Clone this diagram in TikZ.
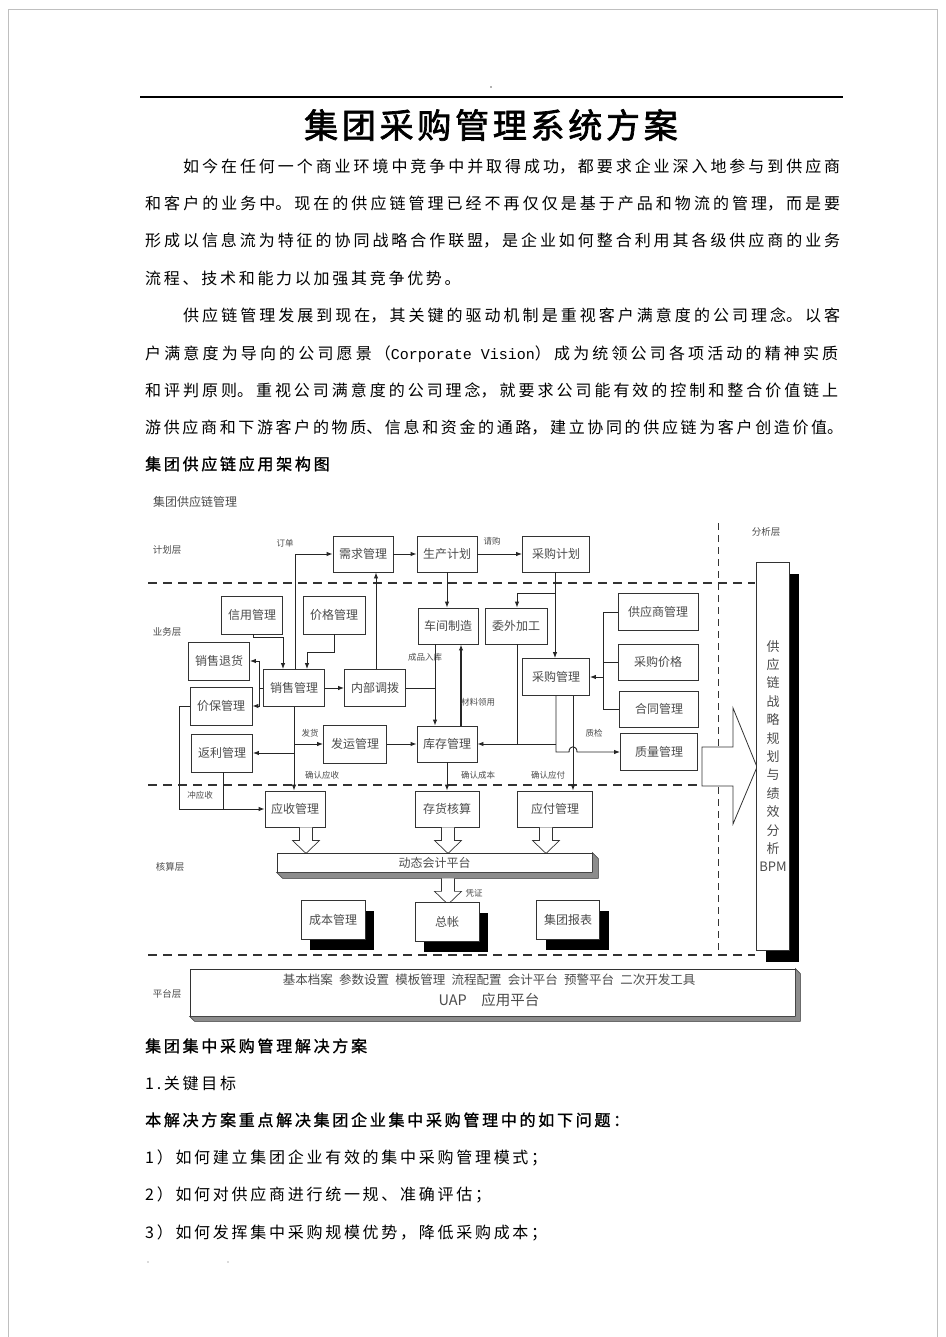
\documentclass[tikz,border=0pt]{standalone}
\usepackage{fontspec}
\usetikzlibrary{arrows.meta,shadows}
\newfontfamily\cjk{Noto Sans CJK SC}
\newfontfamily\monof{Liberation Mono}
\newcommand\bodyfont{\cjk\fontsize{16}{19}\selectfont}
\newcommand\boxfont{\cjk\fontsize{12}{14}\selectfont}
\newcommand\lblfont{\cjk\fontsize{8.5}{10}\selectfont}
\newcommand\layerfont{\cjk\fontsize{9.5}{11}\selectfont}
% one justified line of body text
\newcommand\fullline[2]{\parbox[b]{#1pt}{\bodyfont\XeTeXlinebreaklocale "zh"\XeTeXlinebreakskip=0pt plus 1fil\parfillskip=0pt\relax #2}}
\newcommand\plainline[1]{{\bodyfont\addfontfeatures{LetterSpace=17}#1}}
\newcommand\boldline[1]{{\bodyfont\addfontfeatures{LetterSpace=17,FakeBold=1.2}#1}}
\tikzset{
  box/.style={draw=black!80, line width=0.9pt, fill=white, font=\boxfont, text=black!70,
    inner sep=0pt, minimum width=61pt, minimum height=37pt},
  shbox/.style={box, drop shadow={shadow xshift=9pt, shadow yshift=-10pt, fill=black, opacity=1}},
  lbl/.style={font=\lblfont, text=black!70, inner sep=0pt},
  layer/.style={font=\layerfont, text=black!70, inner sep=0pt},
  arr/.style={-{Latex[length=6pt,width=4.5pt]}, line width=0.9pt, draw=black!85},
  ln/.style={line width=0.9pt, draw=black!85},
  sepline/.style={dash pattern=on 9pt off 6pt, line width=1.6pt, draw=black!80},
  vsepline/.style={dash pattern=on 7pt off 5pt, line width=1pt, draw=black!80},
  txt/.style={inner sep=0pt, anchor=base west},
  holdown/.pic={\draw[fill=white, line width=0.7pt, draw=black!80] (-6.5,0) -- (-6.5,13) -- (-13.5,13) -- (0,26) -- (13.5,13) -- (6.5,13) -- (6.5,0);}
}
\begin{document}
\begin{tikzpicture}[x=1pt,y=-1pt]
\useasboundingbox (0,0) rectangle (945,1337);
\fill[white] (0,0) rectangle (945,1337);
\draw[black!25, line width=0.8pt] (8,9) rectangle (937,1360);

% page head
\fill[black!60] (491,87) circle (0.8);
\draw[line width=1.1pt] (140,97) -- (843,97);
\node[inner sep=0pt, anchor=base] (title) at (491,138)
  {\cjk\fontsize{34}{40}\selectfont\addfontfeatures{LetterSpace=11,FakeBold=2}集团采购管理系统方案};

% body text
\node[txt] (p1a) at (183,173) {\fullline{657}{如今在任何一个商业环境中竞争中并取得成功，都要求企业深入地参与到供应商}};
\node[txt] (p1b) at (145,210) {\fullline{695}{和客户的业务中。现在的供应链管理已经不再仅仅是基于产品和物流的管理，而是要}};
\node[txt] (p1c) at (145,247) {\fullline{695}{形成以信息流为特征的协同战略合作联盟，是企业如何整合利用其各级供应商的业务}};
\node[txt] (p1d) at (145,284) {\plainline{流程、技术和能力以加强其竞争优势。}};
\node[txt] (p2a) at (183,321) {\fullline{657}{供应链管理发展到现在，其关键的驱动机制是重视客户满意度的公司理念。以客}};
\node[txt] (p2b) at (145,359) {\fullline{693}{户满意度为导向的公司愿景（{\monof\fontsize{15}{19}\selectfont Corporate Vision}）成为统领公司各项活动的精神实质}};
\node[txt] (p2c) at (145,396) {\fullline{693}{和评判原则。重视公司满意度的公司理念，就要求公司能有效的控制和整合价值链上}};
\node[txt] (p2d) at (145,433) {\fullline{698}{游供应商和下游客户的物质、信息和资金的通路，建立协同的供应链为客户创造价值。}};
\node[txt] (h1) at (145,470) {\boldline{集团供应链应用架构图}};

% layers
\node[layer, font=\boxfont] (groupname) at (195,502) {集团供应链管理};
\node[layer] (lplan) at (167,550) {计划层};
\node[layer] (lbiz) at (167,632) {业务层};
\node[layer] (lacc) at (170,867) {核算层};
\node[layer] (lplat) at (167,994) {平台层};
\node[layer] (lana) at (766,532) {分析层};
\draw[sepline] (148,583) -- (755,583);
\draw[sepline] (148,785) -- (702,785);
\draw[sepline] (148,955) -- (755,955);
\draw[vsepline] (718,523) -- (718,955);

% plan layer
\node[box, minimum width=60pt, minimum height=36pt] (xuqiu) at (363,554) {需求管理};
\node[box, minimum width=60pt, minimum height=36pt] (shengchan) at (447,554) {生产计划};
\node[box, minimum width=67pt, minimum height=36pt] (caigoujh) at (556,554) {采购计划};

% business layer
\node[box, minimum height=38pt] (xinyong) at (252,615) {信用管理};
\node[box, minimum width=62pt, minimum height=38pt] (jiage) at (334,615) {价格管理};
\node[box, minimum height=38pt] (tuihuo) at (219,661) {销售退货};
\node[box, minimum width=62pt, minimum height=38pt] (jiabao) at (221,706) {价保管理};
\node[box] (xiaoshou) at (294,688) {销售管理};
\node[box] (diaobo) at (375,688) {内部调拨};
\node[box, minimum width=63pt, minimum height=38pt] (fayun) at (355,744) {发运管理};
\node[box, minimum height=38pt] (fanli) at (222,753) {返利管理};
\node[box, minimum width=60pt, minimum height=36pt] (kucun) at (447,744) {库存管理};
\node[box, minimum width=60pt, minimum height=36pt] (chejian) at (448,626) {车间制造};
\node[box, minimum width=62pt, minimum height=36pt] (weiwai) at (516,626) {委外加工};
\node[box, minimum width=67pt] (caigougl) at (556,677) {采购管理};
\node[box, minimum width=80pt] (gongying) at (658,612) {供应商管理};
\node[box, minimum width=80pt, minimum height=36pt] (cgjiage) at (658,662) {采购价格};
\node[box, minimum width=79pt, minimum height=36pt] (hetong) at (659,709) {合同管理};
\node[box, minimum width=77pt] (zhiliang) at (659,752) {质量管理};

% accounting layer
\node[box, minimum width=60pt, minimum height=36pt] (yingshou) at (295,809) {应收管理};
\node[box, minimum width=64pt, minimum height=36pt] (cunhuo) at (447,809) {存货核算};
\node[box, minimum width=75pt, minimum height=36pt] (yingfu) at (555,809) {应付管理};

% plan connectors
\draw[arr] ([xshift=1pt]xiaoshou.north) |- (xuqiu.west);
\node[lbl] (ldingdan) at (285,543) {订单};
\draw[arr] ([xshift=1pt]diaobo.north) -- ([xshift=1pt]diaobo.north |- xuqiu.south);
\draw[arr] (xuqiu) -- (shengchan);
\draw[arr] (shengchan) -- (caigoujh);
\node[lbl] (lqinggou) at (492,541) {请购};
\draw[arr] (shengchan.south) -- (shengchan.south |- chejian.north);
\draw[arr] ([xshift=-1pt]caigoujh.south) -- ([xshift=-1pt]caigoujh.south |- caigougl.north);
\coordinate (cg) at (555,593);
\draw[arr] (cg) -| ([xshift=1pt]weiwai.north);

% sales side
\draw[arr] ([xshift=1pt]xinyong.south) -- ++(0,3) -| ([xshift=-11pt]xiaoshou.north);
\draw[arr] (jiage.south) -- ++(0,18) -| ([xshift=13pt]xiaoshou.north);
\coordinate (fb) at (259,688);
\draw[ln] (xiaoshou.west) -- (fb);
\draw[arr] (fb) |- (tuihuo.east);
\draw[arr] (fb) |- (jiabao.east);
\draw[arr] (xiaoshou) -- (diaobo);
\draw[arr] (xiaoshou.south) -- (xiaoshou.south |- yingshou.north);
\draw[arr] (xiaoshou.south |- fayun.west) -- (fayun.west);
\node[lbl] (lfahuo) at (310,733) {发货};
\draw[arr] (xiaoshou.south |- fanli.east) -- (fanli.east);
\node[lbl] (lqrys) at (322,775) {确认应收};
\draw[arr] (fayun) -- (kucun);
\draw[arr] (jiabao.west) -- ++(-10,0) |- (yingshou.west);
\draw[ln] ([xshift=1pt]fanli.south) -- ([xshift=1pt]fanli.south |- yingshou.west);
\node[lbl] (lchongys) at (200,795) {冲应收};

% stock and purchase
\coordinate (rk) at (435,688);
\draw[ln] (diaobo.east) -- (rk);
\draw[arr] ([xshift=-13pt]chejian.south) -- ([xshift=-12pt]kucun.north);
\node[lbl] (lruku) at (425,657) {成品入库};
\draw[arr, line width=1.8pt] ([xshift=14pt]kucun.north) -- ([xshift=13pt]chejian.south);
\node[lbl] (llingyong) at (478,702) {材料领用};
\draw[arr] ([xshift=1pt]weiwai.south) |- (kucun.east);
\draw[ln] (caigougl.south |- kucun.east) -- ([xshift=1pt]weiwai.south |- kucun.east);
\coordinate (zj) at (556,752);
\draw[arr] (caigougl.south) -- (zj) -- (569,752) .. controls (569,745) and (577,745) .. (577,752) -- (zhiliang.west);
\node[lbl] (lzhijian) at (594,733) {质检};
\draw[arr] ([xshift=17pt]caigougl.south) -- ([xshift=18pt]yingfu.north);
\node[lbl] (lqryf) at (548,775) {确认应付};
\coordinate (gx) at (603,677);
\draw[ln] (gongying.west) -- (gongying.west -| gx) -- (hetong.west -| gx) -- (hetong.west);
\draw[ln] (cgjiage.west) -- (cgjiage.west -| gx);
\draw[arr] (gx) -- (caigougl.east);
\draw[arr] (kucun.south) -- (cunhuo.north);
\node[lbl] (lqrcb) at (478,775) {确认成本};

% accounting platform
\pic at ([xshift=11pt]yingshou.south) {holdown};
\pic at ([xshift=1pt]cunhuo.south) {holdown};
\pic at ([xshift=-9pt]yingfu.south) {holdown};
\node[box, minimum width=315pt, minimum height=19pt, line width=0.7pt] (kuaiji) at (434.5,862.5) {动态会计平台};
\filldraw[fill=black!45, draw=black!80, line width=0.6pt] (kuaiji.south west) -- ([shift={(6,6)}]kuaiji.south west)
  -- ([shift={(6,6)}]kuaiji.south east) -- ([shift={(6,6)}]kuaiji.north east) -- (kuaiji.north east) -- (kuaiji.south east) -- cycle;
\pic at ([xshift=13.5pt,yshift=-6pt]kuaiji.south) {holdown};
\node[lbl] (lpingzheng) at (474,893) {凭证};
\node[shbox, minimum width=64pt, minimum height=39pt] (chengben) at (333,920) {成本管理};
\node[shbox, minimum width=64pt, minimum height=39pt] (zongzhang) at (447,922) {总帐};
\node[shbox, minimum width=63pt, minimum height=39pt] (baobiao) at (568,920) {集团报表};

% analysis
\draw[fill=white, line width=0.8pt, draw=black!80] (702,747) -- (733,747) -- (733,708) -- (757,767) -- (733,824) -- (733,786) -- (702,786) -- cycle;
\node[box, minimum width=33pt, minimum height=388pt, align=center, font={\cjk\fontsize{13}{18.4}\selectfont},
  drop shadow={shadow xshift=9pt, shadow yshift=-12pt, fill=black, opacity=1}] (bpm) at (773,756)
  {供\\应\\链\\战\\略\\规\\划\\与\\绩\\效\\分\\析\\BPM};

% platform
\node[box, minimum width=605pt, minimum height=47pt, line width=0.7pt] (uap) at (492.5,992.5) {};
\filldraw[fill=black!45, draw=black!80, line width=0.6pt] (uap.south west) -- ([shift={(5,5)}]uap.south west)
  -- ([shift={(5,5)}]uap.south east) -- ([shift={(5,5)}]uap.north east) -- (uap.north east) -- (uap.south east) -- cycle;
\node[inner sep=0pt, text=black!70, font={\cjk\fontsize{12.5}{14}\selectfont}] (uaptools) at (489,980)
  {基本档案\enspace 参数设置\enspace 模板管理\enspace 流程配置\enspace 会计平台\enspace 预警平台\enspace 二次开发工具};
\node[inner sep=0pt, text=black!70, font={\cjk\fontsize{14.5}{16}\selectfont}] (uapname) at (489,1000) {UAP\quad 应用平台};

% text below
\node[txt] (h2) at (145,1052) {\boldline{集团集中采购管理解决方案}};
\node[txt] (h3) at (145,1089) {\plainline{1.关键目标}};
\node[txt] (h4) at (145,1126) {\boldline{本解决方案重点解决集团企业集中采购管理中的如下问题：}};
\node[txt] (q1) at (145,1163) {\plainline{1）如何建立集团企业有效的集中采购管理模式；}};
\node[txt] (q2) at (145,1200) {\plainline{2）如何对供应商进行统一规、准确评估；}};
\node[txt] (q3) at (145,1238) {\plainline{3）如何发挥集中采购规模优势，降低采购成本；}};
\fill[black!60] (148,1262) circle (0.7);
\fill[black!60] (228,1262) circle (0.7);
\end{tikzpicture}
\end{document}
